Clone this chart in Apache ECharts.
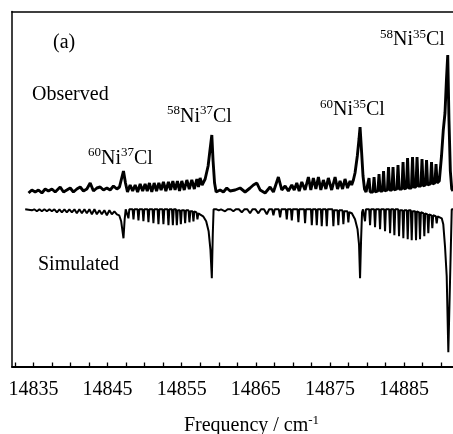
<!DOCTYPE html>
<html><head><meta charset="utf-8">
<script src="https://cdn.jsdelivr.net/npm/echarts@6/dist/echarts.min.js"></script>
<style>html,body{margin:0;padding:0;background:#fff}#c{width:453px;height:434px}</style>
</head><body><div id="c"></div><script>
// x-axis labels and tick marks (cm^-1)
const labelValues = [14835,14845,14855,14865,14875,14885];
const tickValues = [14832.5,14835,14837.5,14840,14842.5,14845,14847.5,14850,14852.5,14855,14857.5,14860,14862.5,14865,14867.5,14870,14872.5,14875,14877.5,14880,14882.5,14885,14887.5,14890];

// Observed spectrum: [frequency cm^-1, intensity a.u.]
const observed = [
[14834.33,-2],[14834.78,1],[14835.23,-1],[14835.67,1],[14836.13,-2],[14836.58,2],[14837.02,0],[14837.48,2],[14837.93,-1],[14838.6,4],[14839.05,-1],[14839.5,1],[14839.95,3],[14840.39,-1],[14840.85,2],[14841.3,4],[14841.74,0],[14842.2,2],[14842.65,8],[14843.09,0],[14843.55,3],[14844.0,4],[14844.44,1],[14844.9,3],[14845.34,1],[14845.79,5],[14846.25,2],[14846.6,4],[14846.87,12],[14847.14,20],[14847.41,8],[14847.68,-1],
[14848.04,6],[14848.38,0],[14848.72,6],[14849.05,-1],[14849.39,7],[14849.73,0],[14850.06,7],[14850.35,0],[14850.64,8],[14850.96,-1],[14851.28,8],[14851.6,0],[14851.91,8],[14852.22,1],[14852.53,9],[14852.86,0],[14853.21,9],[14853.5,1],[14853.8,10],[14854.1,1],[14854.42,10],[14854.7,0],[14855.01,10],[14855.34,1],[14855.69,11],[14856.02,2],[14856.36,11],[14856.7,2],[14857.04,12],[14857.26,4],[14857.48,13],[14857.75,6],[14858.16,12],[14858.56,25],[14858.83,42],[14859.06,56],[14859.23,30],[14859.43,8],[14859.64,-1],
[14860.18,1],[14860.62,-1],[14861.08,3],[14861.53,0],[14862.2,1],[14862.88,3],[14863.55,-1],[14864.22,3],[14864.67,6],[14865.13,8],[14865.58,1],[14866.25,-2],[14866.92,4],[14867.37,-1],[14868.04,14],[14868.5,1],
[14868.95,5],[14869.39,0],[14869.85,6],[14870.18,1],[14870.52,8],[14870.85,0],[14871.2,9],[14871.64,1],[14872.09,14],[14872.42,1],[14872.76,13],[14873.1,2],[14873.44,14],[14873.77,1],[14874.11,11],[14874.45,2],[14874.78,13],[14875.23,1],[14875.69,14],[14876.02,2],[14876.36,10],[14876.7,2],[14877.03,12],[14877.37,3],[14877.71,10],[14877.93,6],[14878.16,11],
[14878.38,18],[14878.69,35],[14878.92,52],[14879.06,64],[14879.26,40],[14879.46,15],[14879.66,2],[14879.87,-1],
[14880.12,-1],[14880.27,13],[14880.42,-1],[14880.8,-1],[14880.95,14],[14881.1,-1],[14881.47,0],[14881.62,17],[14881.77,0],[14882.08,0],[14882.23,20],[14882.38,0],[14882.75,1],[14882.9,24],[14883.05,1],[14883.36,1],[14883.51,24],[14883.66,1],[14884.03,2],[14884.18,26],[14884.33,2],[14884.71,2],[14884.86,29],[14885.01,2],[14885.32,3],[14885.47,33],[14885.62,3],[14885.99,3],[14886.14,34],[14886.29,4],[14886.6,4],[14886.75,34],[14886.9,5],[14887.27,5],[14887.42,32],[14887.57,5],[14887.88,6],[14888.03,31],[14888.18,6],[14888.55,7],[14888.7,29],[14888.85,7],[14889.16,8],[14889.31,27],[14889.46,8],[14889.75,10],
[14890.05,35],[14890.29,61],[14890.52,78],[14890.72,112],[14890.89,136],[14891.06,70],[14891.24,20],[14891.43,2],[14891.6,0]
];

// Simulated spectrum: [frequency cm^-1, intensity a.u.] (plotted inverted)
const simulated = [
[14833.88,0],[14834.78,1],[14835.1,0],[14835.46,2],[14835.8,0],[14836.13,2],[14836.47,0],[14836.81,2],[14837.15,0],[14837.48,2],[14837.82,0],[14838.16,3],[14838.5,0],[14838.83,3],[14839.17,0],[14839.5,3],[14839.84,0],[14840.18,3],[14840.52,0],[14840.85,4],[14841.19,0],[14841.53,4],[14841.87,0],[14842.2,4],[14842.54,0],[14842.88,5],[14843.22,0],[14843.55,5],[14843.89,1],[14844.22,5],[14844.56,1],[14844.9,6],[14845.24,1],[14845.57,5],[14845.91,2],[14846.25,5],[14846.56,6],[14846.83,12],[14847.14,29],[14847.3,10],[14847.44,0],
[14847.69,0],[14847.81,9],[14847.93,0],[14848.37,0],[14848.49,10],[14848.61,0],[14849.04,0],[14849.16,11],[14849.28,0],[14849.71,0],[14849.83,12],[14849.95,0],[14850.39,0],[14850.51,13],[14850.63,0],[14851.06,0],[14851.18,14],[14851.3,0],[14851.74,0],[14851.86,15],[14851.98,0],[14852.41,0],[14852.53,15],[14852.65,0],[14853.09,0],[14853.21,16],[14853.33,0],[14853.68,0],[14853.8,16],[14853.92,0],[14854.22,0],[14854.34,16],[14854.46,1],[14854.76,1],[14854.88,15],[14855.0,1],[14855.34,1],[14855.46,14],[14855.58,1],[14855.92,1],[14856.04,13],[14856.16,2],[14856.46,2],[14856.58,12],[14856.7,2],[14857.0,3],[14857.12,10],[14857.24,4],
[14857.48,4],[14857.89,7],[14858.3,12],[14858.63,22],[14858.87,40],[14859.06,69],[14859.19,25],[14859.3,0],
[14859.7,0],[14860.0,1],[14860.3,0],[14860.5,0],[14860.85,2],[14861.2,0],[14861.6,0],[14861.97,2],[14862.3,0],[14862.7,0],[14863.1,3],[14863.45,0],[14863.85,0],[14864.22,4],[14864.55,0],[14864.95,0],[14865.34,4],[14865.7,0],[14866.1,0],[14866.48,5],[14866.8,0],[14867.2,0],[14867.37,6],[14867.55,0],[14868.1,0],[14868.27,8],[14868.44,0],
[14869.05,0],[14869.17,10],[14869.29,0],[14869.73,0],[14869.85,11],[14869.97,0],[14870.62,0],[14870.74,13],[14870.86,0],[14871.52,0],[14871.64,14],[14871.76,0],[14872.43,0],[14872.55,16],[14872.67,0],[14873.1,0],[14873.22,16],[14873.34,0],[14873.77,0],[14873.89,17],[14874.01,0],[14874.45,0],[14874.57,17],[14874.69,0],[14875.34,0],[14875.46,17],[14875.58,1],[14876.01,1],[14876.13,16],[14876.25,1],[14876.69,1],[14876.81,15],[14876.93,2],[14877.36,2],[14877.48,13],[14877.6,3],[14877.95,4],[14878.1,5],
[14878.38,10],[14878.72,20],[14878.92,35],[14879.06,69],[14879.2,30],[14879.33,3],[14879.46,0],
[14879.61,0],[14879.73,12],[14879.85,0],[14880.29,0],[14880.41,16],[14880.53,0],[14880.96,0],[14881.08,18],[14881.2,0],[14881.64,0],[14881.76,20],[14881.88,0],[14882.31,0],[14882.43,22],[14882.55,0],[14882.99,0],[14883.11,24],[14883.23,0],[14883.57,0],[14883.69,26],[14883.81,0],[14884.2,0],[14884.32,27],[14884.44,1],[14884.78,1],[14884.9,29],[14885.02,1],[14885.37,1],[14885.49,30],[14885.61,1],[14885.91,1],[14886.03,31],[14886.15,2],[14886.49,2],[14886.61,31],[14886.73,2],[14887.03,3],[14887.15,30],[14887.27,3],[14887.61,4],[14887.73,27],[14887.85,4],[14888.15,5],[14888.27,24],[14888.39,5],[14888.69,6],[14888.81,19],[14888.93,6],[14889.28,7],[14889.4,14],[14889.52,7],[14889.75,7],
[14890.08,9],[14890.29,15],[14890.52,37],[14890.75,67],[14890.97,143],[14891.05,143],[14891.43,0],[14891.6,0]
];

// Annotations: [rich text, left px, baseline px]
const isotopeLabels = [
  ['{s|60}{n|Ni}{s|37}{n|Cl}', 88, 165],
  ['{s|58}{n|Ni}{s|37}{n|Cl}', 167, 123.3],
  ['{s|60}{n|Ni}{s|35}{n|Cl}', 320, 116.7],
  ['{s|58}{n|Ni}{s|35}{n|Cl}', 380, 46.7]
];

const X_MIN = 14832.1, X_MAX = 14891.6;
const OBS_BASE = 176, SIM_BASE = 157.7;
const FONT = '"Liberation Serif","Times New Roman",serif';
const rich = {
  n: {fontSize: 20, fontFamily: FONT, color: '#000', lineHeight: 24},
  s: {fontSize: 13, fontFamily: FONT, color: '#000', lineHeight: 12, verticalAlign: 'top'}
};

const chart = echarts.init(document.getElementById('c'), null, {renderer: 'canvas'});

const graphics = [
  {type: 'text', x: 53, y: 42.5, style: {text: '(a)', fontSize: 20, fontFamily: FONT, fill: '#000', align: 'left', verticalAlign: 'middle'}},
  {type: 'text', x: 32, y: 95, style: {text: 'Observed', fontSize: 20, fontFamily: FONT, fill: '#000', align: 'left', verticalAlign: 'middle'}},
  {type: 'text', x: 38, y: 265, style: {text: 'Simulated', fontSize: 20, fontFamily: FONT, fill: '#000', align: 'left', verticalAlign: 'middle'}}
].concat(isotopeLabels.map(([t, x, b]) => ({
  type: 'text', x: x, y: b - 6.75,
  style: {text: t, rich: rich, fontSize: 20, fontFamily: FONT, fill: '#000', align: 'left', verticalAlign: 'middle'}
})));

chart.setOption({
  animation: false,
  backgroundColor: '#fff',
  grid: {left: 12, right: 0, top: 11.5, bottom: 67, outerBoundsMode: 'none', containLabel: false},
  xAxis: [{
    type: 'value', min: X_MIN, max: X_MAX, position: 'bottom',
    axisLine: {show: true, onZero: false, lineStyle: {color: '#000', width: 1.8}},
    axisTick: {show: true, inside: true, length: 4.5, customValues: tickValues, lineStyle: {color: '#000', width: 1.3}},
    axisLabel: {show: true, customValues: labelValues, margin: 13, fontSize: 20, lineHeight: 20, fontFamily: FONT, color: '#000', formatter: v => String(v)},
    splitLine: {show: false},
    name: 'Frequency / cm{s|-1}', nameLocation: 'middle', nameGap: 47,
    nameTextStyle: {fontSize: 20, fontFamily: FONT, color: '#000', lineHeight: 24, padding: [0, 0, 0, 38], rich: rich}
  }, {
    type: 'value', min: X_MIN, max: X_MAX, position: 'top',
    axisLine: {show: true, onZero: false, lineStyle: {color: '#000', width: 1.5}},
    axisTick: {show: false}, axisLabel: {show: false}, splitLine: {show: false}
  }],
  yAxis: {
    type: 'value', min: 0, max: 355.5,
    axisLine: {show: true, onZero: false, lineStyle: {color: '#000', width: 1.5}},
    axisTick: {show: false}, axisLabel: {show: false}, splitLine: {show: false}
  },
  graphic: graphics,
  series: [{
    name: 'Observed', type: 'line', xAxisIndex: 0, showSymbol: false, symbol: 'none',
    lineStyle: {color: '#000', width: 2.9}, silent: true,
    data: observed.map(([f, v]) => [f, OBS_BASE + v])
  }, {
    name: 'Simulated', type: 'line', xAxisIndex: 0, showSymbol: false, symbol: 'none',
    lineStyle: {color: '#000', width: 2}, silent: true,
    data: simulated.map(([f, v]) => [f, SIM_BASE - v])
  }]
});
</script></body></html>
